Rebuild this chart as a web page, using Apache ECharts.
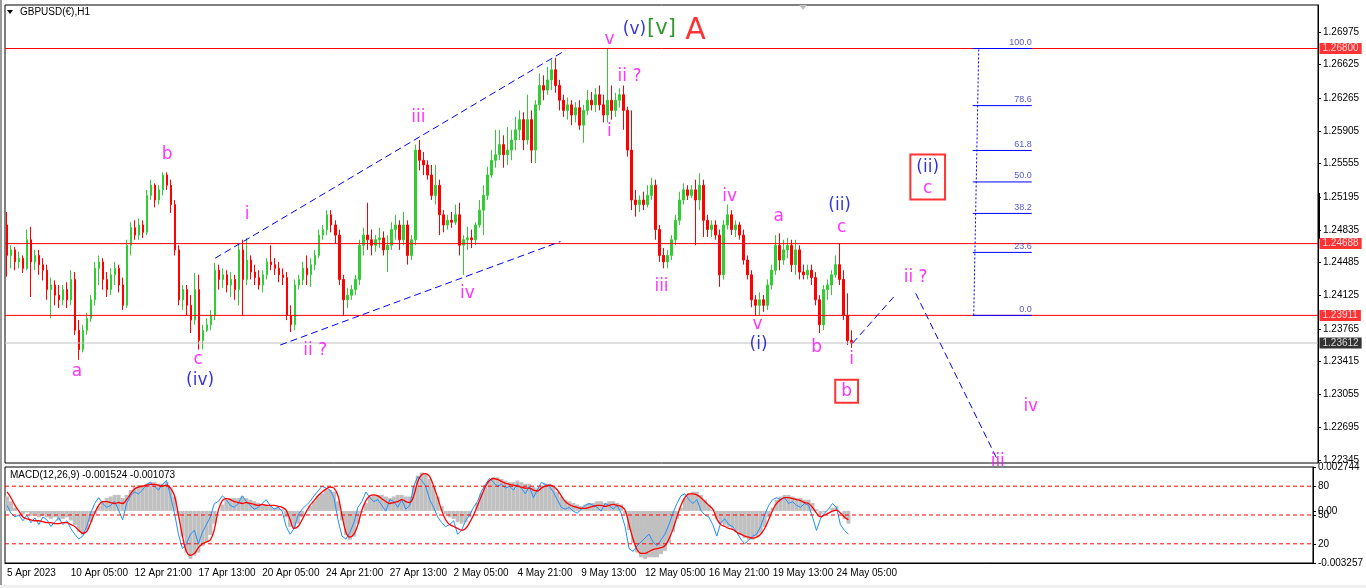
<!DOCTYPE html>
<html>
<head>
<meta charset="utf-8">
<title>GBPUSD H1</title>
<script src="https://cdn.jsdelivr.net/npm/echarts@6/dist/echarts.min.js"></script>
<style>
  html, body { margin: 0; padding: 0; background: #fff; }
  #chart { width: 1366px; height: 588px; }
</style>
</head>
<body>
<div id="chart"></div>
<script>
// one bucket per 4 hourly bars of the original chart: [open, close, low, high]
const candles = [
  [1.2489,1.2456,1.2433,1.2503],[1.2456,1.2462,1.2442,1.2467],[1.2462,1.2449,1.2440,1.2465],[1.2449,1.2453,1.2442,1.2460],
  [1.2453,1.2442,1.2437,1.2456],[1.2442,1.2473,1.2440,1.2484],[1.2473,1.2449,1.2411,1.2487],[1.2449,1.2456,1.2440,1.2462],
  [1.2456,1.2446,1.2435,1.2462],[1.2446,1.2440,1.2429,1.2453],[1.2440,1.2419,1.2408,1.2446],[1.2419,1.2424,1.2388,1.2432],
  [1.2424,1.2413,1.2402,1.2429],[1.2413,1.2408,1.2399,1.2424],[1.2408,1.2419,1.2402,1.2424],[1.2419,1.2408,1.2399,1.2427],
  [1.2408,1.2430,1.2402,1.2440],[1.2430,1.2375,1.2370,1.2438],[1.2375,1.2354,1.2343,1.2386],[1.2354,1.2375,1.2351,1.2381],
  [1.2375,1.2388,1.2370,1.2394],[1.2388,1.2408,1.2384,1.2413],[1.2408,1.2442,1.2402,1.2449],[1.2442,1.2449,1.2424,1.2456],
  [1.2449,1.2430,1.2419,1.2453],[1.2430,1.2419,1.2411,1.2438],[1.2419,1.2435,1.2413,1.2442],[1.2435,1.2442,1.2424,1.2449],
  [1.2442,1.2424,1.2416,1.2446],[1.2424,1.2402,1.2397,1.2432],[1.2402,1.2467,1.2399,1.2473],[1.2467,1.2486,1.2456,1.2492],
  [1.2486,1.2478,1.2473,1.2494],[1.2478,1.2489,1.2473,1.2496],[1.2489,1.2481,1.2475,1.2494],[1.2481,1.2521,1.2478,1.2527],
  [1.2521,1.2532,1.2516,1.2538],[1.2532,1.2516,1.2508,1.2534],[1.2516,1.2527,1.2511,1.2532],[1.2527,1.2543,1.2521,1.2546],
  [1.2543,1.2532,1.2527,1.2546],[1.2532,1.2511,1.2502,1.2538],[1.2511,1.2462,1.2456,1.2516],[1.2462,1.2408,1.2402,1.2467],
  [1.2408,1.2419,1.2397,1.2424],[1.2419,1.2402,1.2391,1.2424],[1.2402,1.2386,1.2372,1.2413],[1.2386,1.2419,1.2381,1.2437],
  [1.2419,1.2364,1.2354,1.2435],[1.2364,1.2375,1.2354,1.2381],[1.2375,1.2381,1.2373,1.2388],[1.2381,1.2391,1.2375,1.2397],
  [1.2391,1.2440,1.2386,1.2448],[1.2440,1.2430,1.2419,1.2446],[1.2430,1.2435,1.2421,1.2442],[1.2435,1.2424,1.2416,1.2440],
  [1.2424,1.2430,1.2411,1.2438],[1.2430,1.2419,1.2408,1.2435],[1.2419,1.2462,1.2402,1.2469],[1.2462,1.2430,1.2391,1.2473],
  [1.2430,1.2451,1.2424,1.2475],[1.2451,1.2438,1.2430,1.2456],[1.2438,1.2432,1.2424,1.2446],[1.2432,1.2424,1.2419,1.2440],
  [1.2424,1.2435,1.2416,1.2440],[1.2435,1.2449,1.2430,1.2453],[1.2449,1.2446,1.2440,1.2467],[1.2446,1.2442,1.2435,1.2453],
  [1.2442,1.2435,1.2427,1.2449],[1.2435,1.2432,1.2424,1.2442],[1.2432,1.2391,1.2386,1.2438],[1.2391,1.2381,1.2373,1.2402],
  [1.2381,1.2424,1.2375,1.2430],[1.2424,1.2430,1.2419,1.2435],[1.2430,1.2442,1.2424,1.2449],[1.2442,1.2435,1.2424,1.2456],
  [1.2435,1.2446,1.2422,1.2453],[1.2446,1.2456,1.2440,1.2462],[1.2456,1.2478,1.2453,1.2484],[1.2478,1.2484,1.2473,1.2489],
  [1.2484,1.2500,1.2478,1.2505],[1.2500,1.2489,1.2481,1.2505],[1.2489,1.2478,1.2469,1.2494],[1.2478,1.2430,1.2424,1.2484],
  [1.2430,1.2408,1.2391,1.2435],[1.2408,1.2413,1.2399,1.2421],[1.2413,1.2419,1.2408,1.2424],[1.2419,1.2430,1.2413,1.2435],
  [1.2430,1.2467,1.2424,1.2473],[1.2467,1.2478,1.2456,1.2486],[1.2478,1.2473,1.2462,1.2513],[1.2473,1.2467,1.2456,1.2484],
  [1.2467,1.2473,1.2460,1.2478],[1.2473,1.2475,1.2464,1.2486],[1.2475,1.2462,1.2456,1.2482],[1.2462,1.2467,1.2438,1.2478],
  [1.2467,1.2484,1.2462,1.2492],[1.2484,1.2489,1.2473,1.2500],[1.2489,1.2473,1.2462,1.2494],[1.2473,1.2489,1.2467,1.2503],
  [1.2489,1.2456,1.2446,1.2494],[1.2456,1.2473,1.2451,1.2478],[1.2473,1.2570,1.2467,1.2576],[1.2570,1.2559,1.2548,1.2581],
  [1.2559,1.2554,1.2543,1.2568],[1.2554,1.2543,1.2538,1.2559],[1.2543,1.2521,1.2516,1.2554],[1.2521,1.2532,1.2511,1.2554],
  [1.2532,1.2500,1.2478,1.2538],[1.2500,1.2489,1.2481,1.2505],[1.2489,1.2494,1.2484,1.2500],[1.2494,1.2492,1.2486,1.2503],
  [1.2492,1.2500,1.2489,1.2511],[1.2500,1.2467,1.2456,1.2513],[1.2467,1.2473,1.2435,1.2478],[1.2473,1.2475,1.2462,1.2487],
  [1.2475,1.2473,1.2464,1.2484],[1.2473,1.2489,1.2467,1.2492],[1.2489,1.2505,1.2486,1.2516],[1.2505,1.2521,1.2478,1.2532],
  [1.2521,1.2543,1.2516,1.2552],[1.2543,1.2559,1.2540,1.2570],[1.2559,1.2565,1.2551,1.2592],[1.2565,1.2576,1.2559,1.2592],
  [1.2576,1.2565,1.2551,1.2586],[1.2565,1.2570,1.2554,1.2595],[1.2570,1.2581,1.2559,1.2592],[1.2581,1.2592,1.2570,1.2606],
  [1.2592,1.2603,1.2581,1.2613],[1.2603,1.2581,1.2570,1.2611],[1.2581,1.2603,1.2576,1.2630],[1.2603,1.2570,1.2556,1.2613],
  [1.2570,1.2619,1.2556,1.2624],[1.2619,1.2640,1.2613,1.2653],[1.2640,1.2635,1.2624,1.2651],[1.2635,1.2646,1.2630,1.2660],
  [1.2646,1.2657,1.2635,1.2668],[1.2657,1.2640,1.2632,1.2670],[1.2640,1.2624,1.2613,1.2646],[1.2624,1.2613,1.2606,1.2630],
  [1.2613,1.2619,1.2603,1.2627],[1.2619,1.2608,1.2597,1.2624],[1.2608,1.2616,1.2600,1.2622],[1.2616,1.2597,1.2592,1.2624],
  [1.2597,1.2613,1.2578,1.2619],[1.2613,1.2624,1.2608,1.2635],[1.2624,1.2619,1.2613,1.2633],[1.2619,1.2630,1.2611,1.2637],
  [1.2630,1.2619,1.2613,1.2640],[1.2619,1.2608,1.2600,1.2630],[1.2608,1.2624,1.2600,1.2680],[1.2624,1.2613,1.2603,1.2640],
  [1.2613,1.2624,1.2606,1.2632],[1.2624,1.2630,1.2616,1.2637],[1.2630,1.2613,1.2592,1.2640],[1.2613,1.2570,1.2563,1.2617],
  [1.2570,1.2516,1.2505,1.2613],[1.2516,1.2511,1.2498,1.2527],[1.2511,1.2516,1.2503,1.2521],[1.2516,1.2511,1.2505,1.2525],
  [1.2511,1.2521,1.2508,1.2532],[1.2521,1.2532,1.2516,1.2540],[1.2532,1.2484,1.2473,1.2538],[1.2484,1.2456,1.2449,1.2489],
  [1.2456,1.2449,1.2442,1.2464],[1.2449,1.2456,1.2442,1.2462],[1.2456,1.2473,1.2451,1.2478],[1.2473,1.2494,1.2467,1.2500],
  [1.2494,1.2516,1.2489,1.2525],[1.2516,1.2527,1.2511,1.2534],[1.2527,1.2521,1.2516,1.2532],[1.2521,1.2527,1.2518,1.2532],
  [1.2527,1.2516,1.2467,1.2538],[1.2516,1.2532,1.2505,1.2545],[1.2532,1.2494,1.2476,1.2538],[1.2494,1.2484,1.2476,1.2500],
  [1.2484,1.2489,1.2476,1.2494],[1.2489,1.2478,1.2473,1.2494],[1.2478,1.2435,1.2422,1.2484],[1.2435,1.2489,1.2430,1.2494],
  [1.2489,1.2500,1.2484,1.2511],[1.2500,1.2484,1.2478,1.2505],[1.2484,1.2489,1.2476,1.2494],[1.2489,1.2478,1.2473,1.2492],
  [1.2478,1.2451,1.2446,1.2484],[1.2451,1.2435,1.2430,1.2456],[1.2435,1.2408,1.2400,1.2440],[1.2408,1.2402,1.2391,1.2413],
  [1.2402,1.2408,1.2391,1.2416],[1.2408,1.2402,1.2395,1.2413],[1.2402,1.2424,1.2397,1.2430],[1.2424,1.2440,1.2419,1.2446],
  [1.2440,1.2467,1.2435,1.2478],[1.2467,1.2451,1.2440,1.2480],[1.2451,1.2462,1.2446,1.2473],[1.2462,1.2467,1.2453,1.2475],
  [1.2467,1.2446,1.2438,1.2473],[1.2446,1.2462,1.2435,1.2473],[1.2462,1.2438,1.2430,1.2467],[1.2438,1.2435,1.2430,1.2446],
  [1.2435,1.2440,1.2430,1.2446],[1.2440,1.2432,1.2424,1.2446],[1.2432,1.2408,1.2402,1.2438],[1.2408,1.2381,1.2372,1.2413],
  [1.2381,1.2419,1.2375,1.2424],[1.2419,1.2424,1.2408,1.2430],[1.2424,1.2435,1.2413,1.2440],[1.2435,1.2446,1.2432,1.2456],
  [1.2446,1.2430,1.2424,1.2469],[1.2430,1.2391,1.2386,1.2440],[1.2391,1.2364,1.2359,1.2415],[1.2364,1.2361,1.2356,1.2375]
];

// MACD histogram (gray), per bucket
const macdHist = [
  0.0009,0.0006,0.0002,0.0000,
  -0.0002,-0.0001,-0.0003,-0.0002,-0.0004,-0.0003,-0.0004,-0.0005,-0.0004,-0.0006,-0.0005,-0.0004,-0.0006,-0.0009,
  -0.0013,-0.0015,-0.0012,-0.0007,-0.0002,
  0.0003,0.0006,0.0008,0.0009,0.0010,0.0010,0.0008,0.0010,
  0.0013,0.0015,0.0016,0.0016,0.0017,0.0018,0.0018,0.0017,0.0017,0.0018,0.0015,
  0.0009,-0.0003,-0.0016,-0.0026,-0.0030,-0.0028,
  -0.0026,-0.0022,-0.0019,-0.0015,-0.0008,
  0.0000,0.0004,0.0007,0.0008,0.0008,0.0008,0.0009,0.0008,0.0007,0.0006,0.0005,0.0004,0.0004,0.0003,0.0002,0.0002,0.0001,-0.0004,-0.0010,
  -0.0011,-0.0008,-0.0004,0.0000,0.0003,0.0006,0.0009,0.0011,0.0013,0.0013,0.0012,
  0.0006,-0.0006,-0.0015,-0.0018,-0.0016,-0.0008,
  -0.0001,0.0005,0.0009,0.0010,0.0010,0.0010,0.0009,0.0008,0.0009,0.0010,0.0010,0.0009,0.0009,0.0015,
  0.0022,0.0024,0.0023,0.0020,0.0015,0.0009,0.0003,-0.0002,-0.0004,-0.0005,
  -0.0007,-0.0008,-0.0007,-0.0004,0.0000,0.0005,0.0011,0.0016,
  0.0019,0.0021,0.0021,0.0020,0.0019,0.0018,0.0018,0.0019,0.0018,0.0017,0.0017,0.0015,0.0014,0.0016,0.0017,0.0017,0.0015,
  0.0012,0.0009,0.0007,0.0006,0.0005,0.0004,0.0003,0.0004,0.0005,0.0005,0.0006,0.0006,0.0005,0.0006,0.0006,0.0005,0.0004,-0.0002,
  -0.0012,-0.0020,-0.0026,-0.0029,-0.0030,-0.0029,-0.0029,-0.0029,-0.0027,-0.0025,
  -0.0020,-0.0013,-0.0005,0.0002,0.0008,0.0011,0.0012,0.0012,
  0.0010,0.0007,0.0004,0.0001,-0.0005,-0.0008,-0.0009,-0.0010,-0.0011,-0.0013,-0.0015,-0.0017,-0.0018,-0.0018,-0.0016,-0.0014,
  -0.0010,-0.0004,0.0002,0.0007,0.0009,0.0010,0.0010,0.0009,0.0008,0.0008,0.0007,0.0007,
  0.0005,0.0001,-0.0002,-0.0001,0.0000,0.0002,0.0003,0.0000,-0.0005,-0.0008
];

// slow red line (0..100 scale)
const redLine = [
  74,68,60,54,
  48,46,45,44,44,43,42,42,41,41,42,42,40,38,
  34,31,33,42,52,
  60,64,64,63,62,63,62,66,
  72,77,79,80,81,82,82,81,80,81,78,
  70,50,28,12,8,10,
  16,20,22,24,35,
  55,65,67,66,64,63,62,63,62,61,60,61,60,60,60,59,58,55,45,
  36,38,45,53,60,65,70,74,77,79,78,
  70,50,32,27,30,40,
  55,65,70,71,70,67,64,62,63,64,66,64,63,70,
  85,92,93,90,80,68,55,45,40,38,
  36,34,36,42,50,60,70,80,
  86,88,87,85,83,82,81,80,79,78,78,76,75,78,80,81,80,
  76,70,64,61,59,58,57,57,58,59,60,60,59,60,61,60,59,55,
  40,25,14,10,10,12,14,15,16,18,
  25,35,48,60,68,72,72,71,
  68,64,60,56,46,40,38,36,35,32,30,28,27,26,27,30,
  36,45,55,62,66,68,68,67,66,65,63,62,
  58,52,48,50,52,54,55,52,48,45
];

// fast blue line (0..100 scale)
const blueLine = [
  60,52,48,50,
  44,50,42,47,40,48,45,38,43,47,40,44,36,30,
  25,28,38,52,62,
  68,62,58,60,64,55,45,62,
  70,74,72,76,82,84,80,76,82,86,70,
  52,30,15,20,30,34,
  20,32,40,48,62,
  64,70,66,60,58,62,70,64,60,56,58,62,66,60,56,58,54,38,30,
  36,50,56,60,64,70,75,80,78,76,68,
  45,28,25,32,42,58,
  64,74,68,64,66,60,54,66,64,58,66,56,60,80,
  90,86,80,66,58,48,42,38,40,44,
  30,34,44,50,58,64,75,82,
  88,84,80,82,78,80,76,82,78,72,80,68,76,84,82,80,74,
  66,58,56,58,54,52,56,60,62,60,58,54,62,60,56,60,52,38,
  15,12,18,22,26,30,22,18,24,30,
  40,52,62,70,72,66,62,66,
  55,50,48,40,28,42,46,40,38,32,25,20,24,28,30,38,
  50,60,66,68,66,68,62,64,60,58,62,60,
  48,34,46,52,56,62,58,40,34,30
];

const slotCount = 328; // buckets incl. empty space on the right
const timeLabels = [
  [0, '5 Apr 2023'], [16, '10 Apr 05:00'], [32, '12 Apr 21:00'], [48, '17 Apr 13:00'],
  [64, '20 Apr 05:00'], [80, '24 Apr 21:00'], [96, '27 Apr 13:00'], [112, '2 May 05:00'],
  [128, '4 May 21:00'], [144, '9 May 13:00'], [160, '12 May 05:00'], [176, '16 May 21:00'],
  [192, '19 May 13:00'], [208, '24 May 05:00']
];
const priceTicks = [1.26975, 1.26625, 1.26265, 1.25905, 1.25555, 1.25195, 1.24835,
  1.24485, 1.24125, 1.23765, 1.23415, 1.23055, 1.22695, 1.22345];
const priceLines = [1.26800, 1.24688, 1.23911];
const bidPrice = 1.23612;
const macdTicks = [0.002744, 0, -0.003257];
const levelTicks = [80, 50, 20];

const fibLevels = [0, 23.6, 38.2, 50, 61.8, 78.6, 100];
const fibLow = 1.23911, fibHigh = 1.26800;
const fibSpan = [241.25, 256];          // bucket range of the level lines
const fibStem = [[241.5, 1.23911], [242.75, 1.26800]];

const channelLines = [
  [[52, 1.2453], [139.5, 1.2678]],
  [[68.25, 1.2359], [138.25, 1.2471]]
];
const projLines = [
  [[211.25, 1.2361], [221.5, 1.2411]],
  [[227, 1.2415], [247.5, 1.2234]]
];

// [text, bucket, price, degree]
const waveLabels = [
  ['a', 17.5, 1.2330, 'minor'], ['b', 40, 1.2565, 'minor'], ['c', 47.75, 1.2343, 'minor'],
  ['(iv)', 48.25, 1.2320, 'inter'], ['i', 60, 1.2500, 'minor'], ['ii ?', 77, 1.2353, 'minor'],
  ['iii', 102.75, 1.2605, 'minor'], ['iv', 115, 1.2415, 'minor'], ['v', 150.5, 1.2690, 'minor'],
  ['(v)', 156.75, 1.2701, 'inter'], ['[v]', 163.5, 1.2702, 'primary'], ['A', 172, 1.2699, 'cycle'],
  ['ii ?', 155.5, 1.2650, 'minor'], ['i', 150.5, 1.2590, 'minor'], ['iii', 163.5, 1.2422, 'minor'],
  ['iv', 180.5, 1.2520, 'minor'], ['a', 192.75, 1.2498, 'minor'], ['(ii)', 208, 1.2510, 'inter'],
  ['c', 208.5, 1.2486, 'minor'], ['v', 187.5, 1.2381, 'minor'], ['(i)', 187.75, 1.2359, 'inter'],
  ['b', 202.25, 1.2356, 'minor'], ['i', 211, 1.2343, 'minor'], ['ii ?', 227, 1.2432, 'minor'],
  ['iv', 255.75, 1.2292, 'minor'], ['iii', 247.5, 1.2233, 'minor']
];
// boxed targets: [lines, bucket, price]
const boxedLabels = [
  [['b'], 209.75, 1.2309],
  [['(ii)', 'c'], 230, 1.2541]
];

const FONT = 'Liberation Sans';
const WAVE_FONT = 'DejaVu Sans';
const degreeStyle = {
  minor: { color: '#ff00ff', fontSize: 17 },
  inter: { color: '#0000cd', fontSize: 17 },
  primary: { color: '#008000', fontSize: 21 },
  cycle: { color: '#ff0000', fontSize: 30 }
};

const slots = Array.from({ length: slotCount }, (_, i) => String(i));
const labelAt = {};
timeLabels.forEach(([i, t]) => { labelAt[i] = t; });
const showTime = (i) => labelAt[i] !== undefined;
const xMin = -0.5, xMax = slotCount - 0.5;

const chart = echarts.init(document.getElementById('chart'));

function segment(points, style, xi, yi) {
  return {
    type: 'line', xAxisIndex: xi === undefined ? 2 : xi, yAxisIndex: yi === undefined ? 0 : yi,
    data: points, symbol: 'none', silent: true, z: 4,
    lineStyle: Object.assign({ color: '#0000ff', width: 1 }, style)
  };
}
function priceTag(value, bg) {
  return {
    type: 'scatter', xAxisIndex: 2, yAxisIndex: 0, symbolSize: 1, silent: true, z: 8,
    itemStyle: { color: 'rgba(0,0,0,0)' },
    data: [[xMax, value]],
    label: {
      show: true, position: 'right', distance: 1,
      backgroundColor: bg, color: '#fff', padding: [1, 3, 0, 3],
      fontFamily: FONT, fontSize: 10,
      formatter: () => value.toFixed(5)
    }
  };
}

const series = [
  {
    type: 'candlestick', xAxisIndex: 0, yAxisIndex: 0, data: candles,
    barMaxWidth: 3, z: 3,
    itemStyle: { color: '#32cd32', color0: '#ff0000', borderColor: '#32cd32', borderColor0: '#ff0000', borderWidth: 1 }
  },
  {
    type: 'bar', xAxisIndex: 1, yAxisIndex: 1, data: macdHist,
    barCategoryGap: '0%', itemStyle: { color: '#c0c0c0' }, silent: true
  },
  {
    type: 'line', xAxisIndex: 1, yAxisIndex: 2, data: redLine,
    symbol: 'none', smooth: 0.4, silent: true, z: 5,
    lineStyle: { color: '#ff0000', width: 1.3 }
  },
  {
    type: 'line', xAxisIndex: 1, yAxisIndex: 2, data: blueLine,
    symbol: 'none', silent: true, z: 4,
    lineStyle: { color: '#1e90ff', width: 1 }
  }
];

// horizontal price lines with their right-hand tags
priceLines.forEach(v => {
  series.push(segment([[xMin, v], [xMax, v]], { color: '#ff0000' }));
  series.push(priceTag(v, '#ff0000'));
});
series.push(segment([[xMin, bidPrice], [xMax, bidPrice]], { color: '#c0c0c0' }));
series.push(priceTag(bidPrice, '#000'));

// indicator levels
levelTicks.forEach(v => series.push(segment([[xMin, v], [xMax, v]], { color: '#ff0000', type: [4, 3] }, 3, 2)));

channelLines.concat(projLines).forEach(pts => series.push(segment(pts, { type: [7, 4] })));

fibLevels.forEach(r => {
  const p = fibLow + (fibHigh - fibLow) * r / 100;
  series.push(segment([[fibSpan[0], p], [fibSpan[1], p]], {}));
});
series.push(segment(fibStem, { type: [2, 2] }));
series.push({
  type: 'scatter', xAxisIndex: 2, yAxisIndex: 0, symbolSize: 1, silent: true, z: 6,
  itemStyle: { color: 'rgba(0,0,0,0)' },
  data: fibLevels.map(r => [fibSpan[1], fibLow + (fibHigh - fibLow) * r / 100, r.toFixed(1)]),
  label: {
    show: true, position: 'top', distance: 1, align: 'right',
    color: '#2a2ab8', fontFamily: FONT, fontSize: 9,
    formatter: p => p.value[2]
  }
});

series.push({
  type: 'scatter', xAxisIndex: 2, yAxisIndex: 0, symbolSize: 1, silent: true, z: 7,
  itemStyle: { color: 'rgba(0,0,0,0)' },
  data: waveLabels.map(([text, x, y, deg]) => ({
    value: [x, y],
    label: Object.assign({ formatter: text }, degreeStyle[deg])
  })),
  label: { show: true, position: 'inside', fontFamily: WAVE_FONT }
});

series.push({
  type: 'scatter', xAxisIndex: 2, yAxisIndex: 0, symbolSize: 1, silent: true, z: 7,
  itemStyle: { color: 'rgba(0,0,0,0)' },
  data: boxedLabels.map(([lines, x, y]) => ({
    value: [x, y],
    label: {
      formatter: lines.length > 1 ? '{inter|' + lines[0] + '}\n{minor|' + lines[1] + '}' : '{minor|' + lines[0] + '}'
    }
  })),
  label: {
    show: true, position: 'inside', fontFamily: WAVE_FONT,
    borderColor: '#ff0000', borderWidth: 2, padding: [2, 6, 1, 6],
    rich: {
      minor: { color: '#ff00ff', fontSize: 17, fontFamily: WAVE_FONT, lineHeight: 20, align: 'center' },
      inter: { color: '#0000cd', fontSize: 17, fontFamily: WAVE_FONT, lineHeight: 22, align: 'center' }
    }
  }
});

const option = {
  animation: false,
  backgroundColor: '#fff',
  textStyle: { fontFamily: FONT },
  grid: [
    { left: 5, right: 48, top: 5, height: 458, show: true, borderColor: '#000', borderWidth: 1, backgroundColor: '#fff' },
    { left: 5, right: 48, top: 467, height: 96, show: true, borderColor: '#000', borderWidth: 1, backgroundColor: '#fff' }
  ],
  xAxis: [
    { type: 'category', gridIndex: 0, data: slots, axisLabel: { show: false }, axisTick: { show: false }, axisLine: { show: false, onZero: false } },
    {
      type: 'category', gridIndex: 1, data: slots,
      axisLine: { onZero: false, lineStyle: { color: '#000' } },
      axisTick: { interval: showTime, length: 5, lineStyle: { color: '#000' } },
      axisLabel: {
        interval: showTime, align: 'left', margin: 5,
        color: '#000', fontFamily: FONT, fontSize: 10,
        formatter: (v, i) => labelAt[i] || ''
      }
    },
    { type: 'value', gridIndex: 0, min: xMin, max: xMax, show: false, axisLine: { onZero: false } },
    { type: 'value', gridIndex: 1, min: xMin, max: xMax, show: false, axisLine: { onZero: false } }
  ],
  yAxis: [
    {
      type: 'value', gridIndex: 0, position: 'right', min: 1.22313, max: 1.27271,
      splitLine: { show: false },
      axisLine: { show: true, onZero: false, lineStyle: { color: '#000' } },
      axisTick: { show: true, customValues: priceTicks, length: 3, lineStyle: { color: '#000' } },
      axisLabel: { customValues: priceTicks, formatter: v => v.toFixed(5), color: '#000', fontFamily: FONT, fontSize: 10, margin: 5 }
    },
    {
      type: 'value', gridIndex: 1, position: 'right', min: -0.003257, max: 0.002744,
      splitLine: { show: false },
      axisLine: { show: true, onZero: false, lineStyle: { color: '#000' } },
      axisTick: { show: true, customValues: macdTicks, length: 3, lineStyle: { color: '#000' } },
      axisLabel: {
        customValues: macdTicks, color: '#000', fontFamily: FONT, fontSize: 10, margin: 5,
        formatter: v => (v === 0 ? '0.00' : v.toFixed(6))
      }
    },
    {
      type: 'value', gridIndex: 1, position: 'right', min: 0, max: 100,
      splitLine: { show: false }, axisLine: { show: false, onZero: false },
      axisTick: { show: true, customValues: levelTicks, length: 3, lineStyle: { color: '#000' } },
      axisLabel: { customValues: levelTicks, color: '#000', fontFamily: FONT, fontSize: 10, margin: 5 }
    }
  ],
  series: series,
  graphic: [
    { type: 'rect', shape: { x: 0, y: 0, width: 2, height: 588 }, style: { fill: '#9a9a9a' }, silent: true },
    { type: 'rect', shape: { x: 0, y: 585, width: 1366, height: 3 }, style: { fill: '#f0f0f0' }, silent: true },
    { type: 'polygon', shape: { points: [[7, 10], [13, 10], [10, 14]] }, style: { fill: '#000' }, silent: true },
    { type: 'text', x: 20, y: 7, style: { text: 'GBPUSD(€),H1', fill: '#000', font: '10px "Liberation Sans"' }, silent: true },
    { type: 'polygon', shape: { points: [[799, 5], [807, 5], [803, 10]] }, style: { fill: '#c0c0c0' }, silent: true },
    { type: 'rect', shape: { x: 1318, y: 193, width: 2, height: 46 }, style: { fill: '#000' }, silent: true },
    { type: 'text', x: 10, y: 470, style: { text: 'MACD(12,26,9) -0.001524 -0.001073', fill: '#000', font: '10px "Liberation Sans"' }, silent: true }
  ]
};

chart.setOption(option);
</script>
</body>
</html>
